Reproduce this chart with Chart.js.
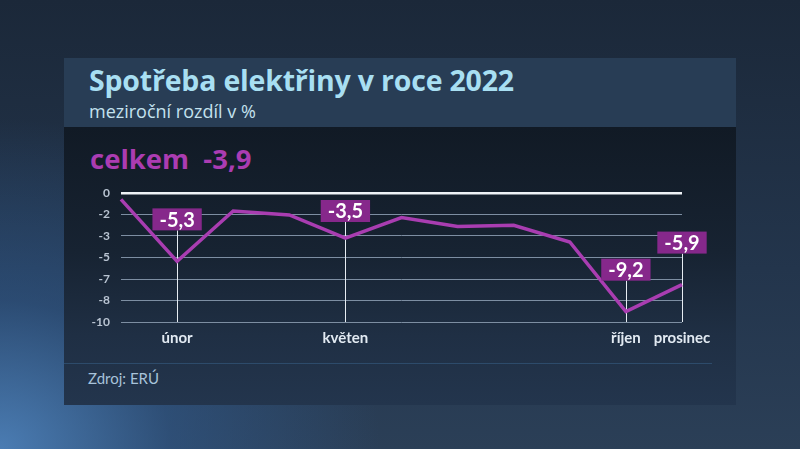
<!DOCTYPE html>
<html>
<head>
<meta charset="utf-8">
<script src="https://cdn.jsdelivr.net/npm/chart.js@4.4.0/dist/chart.umd.min.js"></script>
<style>
  html, body { margin: 0; padding: 0; }
  body {
    width: 800px; height: 449px; overflow: hidden; position: relative;
    font-family: Lato, "Open Sans", sans-serif;
    background:
      radial-gradient(ellipse 380px 330px at 0% 100%, rgba(80,135,195,0.85) 0%, rgba(50,95,150,0.5) 45%, rgba(40,70,110,0) 100%),
      linear-gradient(180deg, #1b2839 0%, #23354c 60%, #2b3f57 100%);
  }
  .panel { position: absolute; left: 64px; top: 58px; width: 672px; height: 347px; }
  .head { position: absolute; left: 0; top: 0; width: 100%; height: 69px; background: #283d55; }
  .body { position: absolute; left: 0; top: 69px; width: 100%; height: 278px;
          background: linear-gradient(180deg, #111a25 0%, #172332 45%, #1f2f44 75%, #23354d 100%); }
  .sep { position: absolute; left: 0; top: 305px; width: 648px; height: 1px; background: #2d4b6b; }
  .title { position: absolute; left: 25px; top: 3px; font-family: "Open Sans", sans-serif; font-size: 28.5px; font-weight: 700; color: #a8dff2; white-space: nowrap; letter-spacing: -0.2px; }
  .sub { position: absolute; left: 25px; top: 41px; font-family: "Open Sans", sans-serif; font-size: 18px; color: #c4e2ef; white-space: nowrap; }
  .total { position: absolute; left: 26px; top: 82px; font-family: "Open Sans", sans-serif; font-size: 27.5px; font-weight: 700; color: #ab3cb2; white-space: nowrap; }
  .src { position: absolute; left: 24px; top: 311px; font-size: 15px; color: #a8c3da; white-space: nowrap; }
  canvas { position: absolute; left: 0; top: 0; }
</style>
</head>
<body>
<div class="panel">
  <div class="head"></div>
  <div class="body"></div>
  <div class="sep"></div>
  <div class="title">Spotřeba elektřiny v roce 2022</div>
  <div class="sub">meziroční rozdíl v %</div>
  <div class="total">celkem&nbsp; -3,9</div>
  <div class="src">Zdroj: ERÚ</div>
</div>
<canvas id="graf" width="800" height="449"></canvas>
<script>
const months = ['leden', 'únor', 'březen', 'duben', 'květen', 'červen', 'červenec', 'srpen', 'září', 'říjen', 'prosinec']
const shownMonths = ['únor', 'květen', 'říjen', 'prosinec']
const values = [-0.5, -5.3, -1.4, -1.7, -3.5, -1.9, -2.6, -2.5, -3.8, -9.2, -7.1]
const yTickValues = [0, -1.667, -3.333, -5, -6.667, -8.333, -10]
const yTickLabels = ['0', '-2', '-3', '-5', '-7', '-8', '-10']
const calloutIdx = [1, 4, 9, 10]
const calloutText = ['-5,3', '-3,5', '-9,2', '-5,9']

// white drop lines + purple value boxes
const callouts = {
  id: 'callouts',
  boxes: [],
  beforeDatasetsDraw(chart) {
    const ctx = chart.ctx
    const area = chart.chartArea
    const x = chart.scales.x, y = chart.scales.y
    ctx.save()
    ctx.font = 'bold 20px Lato, "Open Sans", sans-serif'
    this.boxes = calloutIdx.map((idx, k) => {
      const px = x.getPixelForValue(idx)
      const py = y.getPixelForValue(values[idx])
      const w = ctx.measureText(calloutText[k]).width + 14
      const h = 22
      let top = py - 31 - h
      if (top < area.top + 7) top = area.top + 7
      return { px, top, w, h, text: calloutText[k] }
    })
    ctx.strokeStyle = '#e6ecf2'
    ctx.lineWidth = 1
    this.boxes.forEach(b => {
      ctx.beginPath()
      ctx.moveTo(Math.round(b.px) + 0.5, b.top + b.h)
      ctx.lineTo(Math.round(b.px) + 0.5, area.bottom)
      ctx.stroke()
    })
    ctx.restore()
  },
  afterDatasetsDraw(chart) {
    const ctx = chart.ctx
    ctx.save()
    ctx.font = 'bold 20px Lato, "Open Sans", sans-serif'
    ctx.textAlign = 'center'
    ctx.textBaseline = 'middle'
    this.boxes.forEach(b => {
      ctx.fillStyle = '#86288b'
      ctx.fillRect(b.px - b.w / 2, b.top, b.w, b.h)
      ctx.fillStyle = '#ffffff'
      ctx.fillText(b.text, b.px, b.top + b.h / 2 + 1)
    })
    ctx.restore()
  }
}

new Chart(document.getElementById('graf').getContext('2d'), {
  type: 'line',
  data: {
    labels: months,
    datasets: [{
      data: values,
      borderColor: '#a93db1',
      borderWidth: 3.5,
      pointRadius: 0,
      tension: 0,
      clip: false
    }]
  },
  options: {
    responsive: false,
    animation: false,
    events: [],
    layout: { padding: { left: 80, right: 118, top: 193, bottom: 97 } },
    plugins: { legend: { display: false }, tooltip: { enabled: false } },
    scales: {
      x: {
        offset: false,
        grid: { display: false, drawTicks: false },
        border: { display: false },
        afterFit: s => { s.height = 30 },
        ticks: {
          autoSkip: false,
          maxRotation: 0,
          padding: 7,
          color: '#e2eaf2',
          font: { family: 'Lato, "Open Sans", sans-serif', size: 15, weight: 'bold' },
          callback: (v, i) => shownMonths.includes(months[i]) ? months[i] : ''
        }
      },
      y: {
        min: -10,
        max: 0,
        afterBuildTicks: s => { s.ticks = yTickValues.map(v => ({ value: v })) },
        afterFit: s => { s.width = 41 },
        border: { display: false },
        grid: {
          drawTicks: false,
          color: c => c.tick && c.tick.value === 0 ? '#eef2f6' : '#7d8ea2',
          lineWidth: c => c.tick && c.tick.value === 0 ? 2.5 : 1
        },
        ticks: {
          padding: 11,
          color: '#b8c3d1',
          font: { family: 'Lato, "Open Sans", sans-serif', size: 12, weight: 'bold' },
          callback: (v, i) => yTickLabels[i]
        }
      }
    }
  },
  plugins: [callouts]
})
</script>
</body>
</html>
